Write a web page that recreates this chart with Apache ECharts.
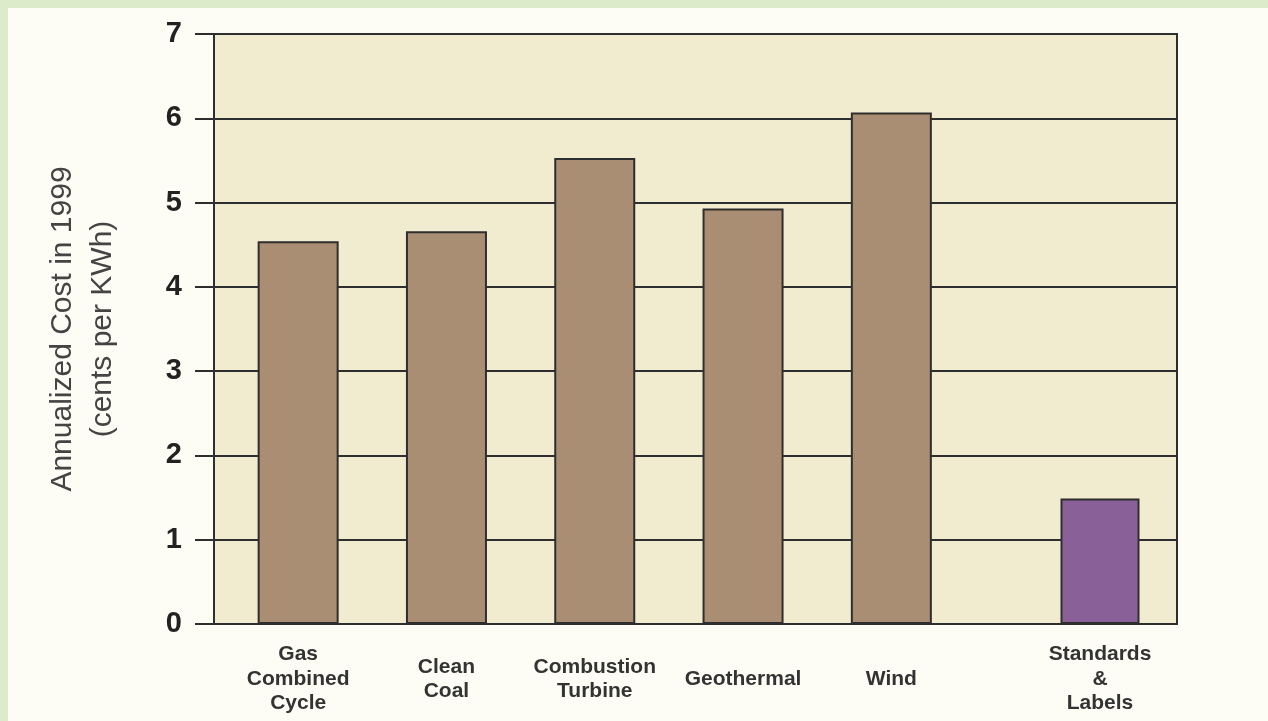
<!DOCTYPE html>
<html>
<head>
<meta charset="utf-8">
<script src="https://cdn.jsdelivr.net/npm/echarts@6/dist/echarts.min.js"></script>
<style>
  html, body { margin: 0; padding: 0; background: #dcebca; }
  #wrap { position: absolute; left: 0; top: 0; width: 1268px; height: 721px; background: #dcebca; }
  #chart { position: absolute; left: 8px; top: 8px; width: 1260px; height: 713px; background: #fdfdf6; }
</style>
</head>
<body>
<div id="wrap"><div id="chart"></div></div>
<script>
// Data
const mainCategories = ['Gas\nCombined\nCycle', 'Clean\nCoal', 'Combustion\nTurbine', 'Geothermal', 'Wind'];
const mainValues = [4.54, 4.66, 5.53, 4.93, 6.07];
const sideCategories = ['Standards\n&\nLabels'];
const sideValues = [1.49];
const yTicks = [0, 1, 2, 3, 4, 5, 6, 7];
const yTitle = 'Annualized Cost in 1999\n(cents per KWh)';

const chart = echarts.init(document.getElementById('chart'), null, { renderer: 'canvas' });

const dark = '#2e2e2e';
const labelFont = 'Liberation Sans, Arial, Helvetica, sans-serif';
const yMin = yTicks[0], yMax = yTicks[yTicks.length - 1];

const xLabelStyle = {
  fontFamily: labelFont, fontWeight: 'bold', fontSize: 21, color: '#333',
  lineHeight: 24.5, verticalAlign: 'middle', margin: 55, interval: 0
};
const hiddenY = { type: 'value', min: yMin, max: yMax, interval: 1, show: false };

chart.setOption({
  animation: false,
  grid: [
    { left: 206, right: 91, top: 26, bottom: 97, show: true, backgroundColor: '#f1ebd0',
      borderColor: dark, borderWidth: 2, outerBoundsMode: 'none', containLabel: false },
    { left: 216, right: 302.5, top: 26, bottom: 97, outerBoundsMode: 'none', containLabel: false },
    { left: 1015, right: 91, top: 26, bottom: 97, outerBoundsMode: 'none', containLabel: false }
  ],
  xAxis: [
    { gridIndex: 0, type: 'category', data: [''], show: false },
    { gridIndex: 1, type: 'category', data: mainCategories,
      axisLine: { show: false }, axisTick: { show: false }, axisLabel: xLabelStyle },
    { gridIndex: 2, type: 'category', data: sideCategories,
      axisLine: { show: false }, axisTick: { show: false }, axisLabel: xLabelStyle }
  ],
  yAxis: [
    { gridIndex: 0, type: 'value', min: yMin, max: yMax, interval: 1,
      name: yTitle, nameLocation: 'middle', nameGap: 91,
      nameTextStyle: { fontFamily: labelFont, fontSize: 30, color: '#444', lineHeight: 40 },
      axisLine: { show: true, lineStyle: { color: dark, width: 2 } },
      axisTick: { show: true, length: 19, lineStyle: { color: dark, width: 2 } },
      axisLabel: { fontFamily: labelFont, fontWeight: 'bold', fontSize: 29, color: '#222', margin: 32 },
      splitLine: { show: true, lineStyle: { color: dark, width: 2 } } },
    Object.assign({ gridIndex: 1 }, hiddenY),
    Object.assign({ gridIndex: 2 }, hiddenY)
  ],
  series: [
    { type: 'bar', xAxisIndex: 1, yAxisIndex: 1, data: mainValues, barWidth: 81,
      itemStyle: { color: '#a98e73', borderColor: dark, borderWidth: 2 } },
    { type: 'bar', xAxisIndex: 2, yAxisIndex: 2, data: sideValues, barWidth: 79,
      itemStyle: { color: '#8a6098', borderColor: dark, borderWidth: 2 } }
  ]
});
</script>
</body>
</html>
